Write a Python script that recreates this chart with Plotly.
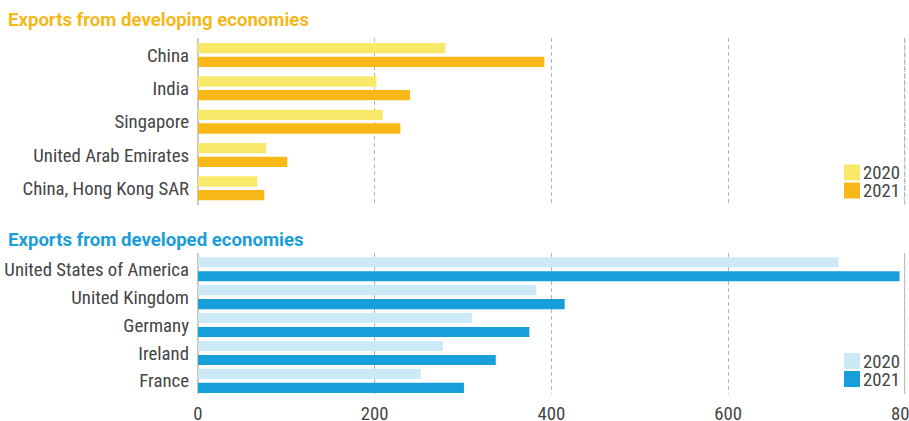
import plotly.graph_objects as go

# ---- data ----
dev_countries = ["China", "India", "Singapore", "United Arab Emirates", "China, Hong Kong SAR"]
dev_2020 = [280, 202, 209, 77, 67]
dev_2021 = [392, 240, 229, 101, 75]

dvd_countries = ["United States of America", "United Kingdom", "Germany", "Ireland", "France"]
dvd_2020 = [725, 383, 310, 277, 252]
dvd_2021 = [794, 415, 375, 337, 301]

x_ticks = [0, 200, 400, 600, 800]
years = ["2020", "2021"]

# ---- styles ----
Y20_DEV = "#F9E96B"
Y21_DEV = "#F8B818"
Y20_DVD = "#CCEAF6"
Y21_DVD = "#179FD9"
TITLE_DEV = "#F6B718"
TITLE_DVD = "#1A9DD9"
TXT = "#454545"
GRID = "#b5b5b5"
FONT = "Liberation Sans Narrow, Roboto Condensed, Roboto"
TFONT = "Roboto"
FS = 18.8

W, H = 909, 421
ML, MR, MT, MB = 198, 0, 38, 27
PH = H - MT - MB
PW = W - ML - MR


def py(px):  # pixel from top -> paper y
    return (H - MB - px) / PH


def px_(x):  # pixel from left -> paper x
    return (x - ML) / PW


fig = go.Figure()

# developing panel
fig.add_trace(go.Bar(y=dev_countries, x=dev_2020, orientation="h", name=years[0],
                     marker=dict(color=Y20_DEV, line=dict(width=0)),
                     width=0.31, offset=-0.36, xaxis="x2", yaxis="y2",
                     showlegend=False, hoverinfo="x+y"))
fig.add_trace(go.Bar(y=dev_countries, x=dev_2021, orientation="h", name=years[1],
                     marker=dict(color=Y21_DEV, line=dict(width=0)),
                     width=0.31, offset=0.05, xaxis="x2", yaxis="y2",
                     showlegend=False, hoverinfo="x+y"))
# developed panel
fig.add_trace(go.Bar(y=dvd_countries, x=dvd_2020, orientation="h", name=years[0],
                     marker=dict(color=Y20_DVD, line=dict(width=0)),
                     width=0.36, offset=-0.43, xaxis="x", yaxis="y",
                     showlegend=False, hoverinfo="x+y"))
fig.add_trace(go.Bar(y=dvd_countries, x=dvd_2021, orientation="h", name=years[1],
                     marker=dict(color=Y21_DVD, line=dict(width=0)),
                     width=0.36, offset=0.07, xaxis="x", yaxis="y",
                     showlegend=False, hoverinfo="x+y"))

xcommon = dict(range=[0, 804.7], tickvals=x_ticks, showgrid=True, gridcolor=GRID,
               gridwidth=1, griddash="4px,3px", zeroline=True, zerolinecolor="#c9c9c9",
               zerolinewidth=2, showline=False, ticks="", fixedrange=True)
ycommon = dict(type="category", showgrid=False, zeroline=False, showline=False,
               ticks="", ticklabelstandoff=8, fixedrange=True,
               tickfont=dict(family=FONT, size=FS, color=TXT))

shapes = []
# last gridline (at the top tick) which plotly skips near the plot edge
for xr, yr in (("x", "y domain"), ("x2", "y2 domain")):
    shapes.append(dict(type="line", xref=xr, yref=yr, x0=x_ticks[-1], x1=x_ticks[-1],
                       y0=0, y1=1, layer="below",
                       line=dict(color=GRID, width=1, dash="4px,3px")))

# legend (squares + labels) laid out per panel
legend_rows = [
    (Y20_DEV, years[0], 164.5), (Y21_DEV, years[1], 182.5),
    (Y20_DVD, years[0], 353.0), (Y21_DVD, years[1], 371.0),
]
annotations = []
for color, label, top in legend_rows:
    shapes.append(dict(type="rect", xref="paper", yref="paper",
                       x0=px_(844), x1=px_(860), y0=py(top + 16), y1=py(top),
                       fillcolor=color, line=dict(width=0), layer="above"))
    annotations.append(dict(text=label, xref="paper", yref="paper",
                            x=px_(862), y=py(top + 8.5), xanchor="left", yanchor="middle",
                            showarrow=False, borderpad=0,
                            font=dict(family=FONT, size=FS, color=TXT)))

annotations += [
    dict(text="<b>Exports from developing economies</b>", xref="paper", yref="paper",
         x=px_(5.5), y=py(20.5), xanchor="left", yanchor="middle", showarrow=False,
         font=dict(family=TFONT, size=18.6, color=TITLE_DEV)),
    dict(text="<b>Exports from developed economies</b>", xref="paper", yref="paper",
         x=px_(5.5), y=py(239.5), xanchor="left", yanchor="middle", showarrow=False,
         font=dict(family=TFONT, size=18.6, color=TITLE_DVD)),
]

fig.update_layout(
    width=W, height=H,
    margin=dict(l=ML, r=MR, t=MT, b=MB, autoexpand=False),
    paper_bgcolor="white", plot_bgcolor="white",
    barmode="overlay",
    showlegend=False,
    font=dict(family=FONT, size=FS, color=TXT),
    xaxis=dict(**xcommon, anchor="y", showticklabels=True, ticklabelstandoff=6,
               ticklabeloverflow="allow",
               tickfont=dict(family=FONT, size=FS, color=TXT)),
    xaxis2=dict(**xcommon, anchor="y2", matches="x", showticklabels=False),
    yaxis=dict(**ycommon, domain=[0, py(253.3)], range=[4.47, -0.57], anchor="x",
               categoryarray=dvd_countries),
    yaxis2=dict(**ycommon, domain=[py(205), 1], range=[4.5, -0.51], anchor="x2",
                categoryarray=dev_countries),
    shapes=shapes,
    annotations=annotations,
)

fig.write_html("out.html", config={"displayModeBar": False},
               post_script="document.body.style.margin='0';document.body.style.padding='0';")
